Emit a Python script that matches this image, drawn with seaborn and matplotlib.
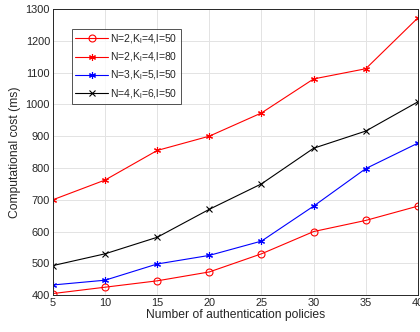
import numpy as np
import pandas as pd
import matplotlib
matplotlib.use("Agg")
import matplotlib.pyplot as plt
import seaborn as sns

# values
policies = [5, 10, 15, 20, 25, 30, 35, 40]
cost_n2_k4_l50 = [405, 425, 445, 473, 530, 600, 635, 680]
cost_n2_k4_l80 = [700, 762, 855, 900, 973, 1080, 1112, 1272]
cost_n3_k5_l50 = [432, 447, 498, 525, 570, 680, 798, 878]
cost_n4_k6_l50 = [493, 530, 582, 670, 750, 862, 916, 1008]
labels = [r"N=2,K$_\mathrm{l}$=4,l=50", r"N=2,K$_\mathrm{l}$=4,l=80",
          r"N=3,K$_\mathrm{l}$=5,l=50", r"N=4,K$_\mathrm{l}$=6,l=50"]

series = [cost_n2_k4_l50, cost_n2_k4_l80, cost_n3_k5_l50, cost_n4_k6_l50]

sns.set_style("whitegrid")
plt.rcParams["font.family"] = ["Liberation Sans", "DejaVu Sans"]
plt.rcParams["mathtext.fontset"] = "custom"
plt.rcParams["mathtext.rm"] = "Liberation Sans"

fig = plt.figure(figsize=(4.2, 3.32), dpi=100)
ax = fig.add_axes([0.126, 0.111, 0.869, 0.862])

colors = ["#ff0000", "#ff0000", "#0000ff", "#000000"]
markers = ["o", "*", "*", "x"]
for s, lab, c, mk in zip(series, labels, colors, markers):
    kw = dict(marker=mk, markersize=4.5, markeredgewidth=0.8, markeredgecolor=c)
    if mk == "o":
        kw["markerfacecolor"] = "none"
        kw["markersize"] = 5
    if mk == "*":
        kw["marker"] = (6, 2, 0)
        kw["markersize"] = 5
    sns.lineplot(x=policies, y=s, color=c, label=lab, linewidth=0.8, ax=ax, **kw)

ax.set_xlim(5, 40)
ax.set_ylim(400, 1300)
ax.set_xticks(policies)
ax.set_yticks(range(400, 1301, 100))
ax.grid(True, color="#e3e3e3", linewidth=0.7)
for sp in ax.spines.values():
    sp.set_color("#262626")
    sp.set_linewidth(0.7)
ax.tick_params(labelsize=7.9, colors="#262626", length=0, pad=2)
ax.set_xlabel("Number of authentication policies", fontsize=8.7, color="#262626", labelpad=1)
ax.set_ylabel("Computational cost (ms)", fontsize=8.7, color="#262626", labelpad=3)

leg = ax.legend(loc="upper left", bbox_to_anchor=(0.052, 0.93), fontsize=7.5,
                frameon=True, fancybox=False, edgecolor="#262626",
                handlelength=3.2, handletextpad=0.2, borderpad=0.3,
                labelspacing=0.45, borderaxespad=0)
leg.get_frame().set_linewidth(0.7)

fig.savefig("out.png", dpi=100)
